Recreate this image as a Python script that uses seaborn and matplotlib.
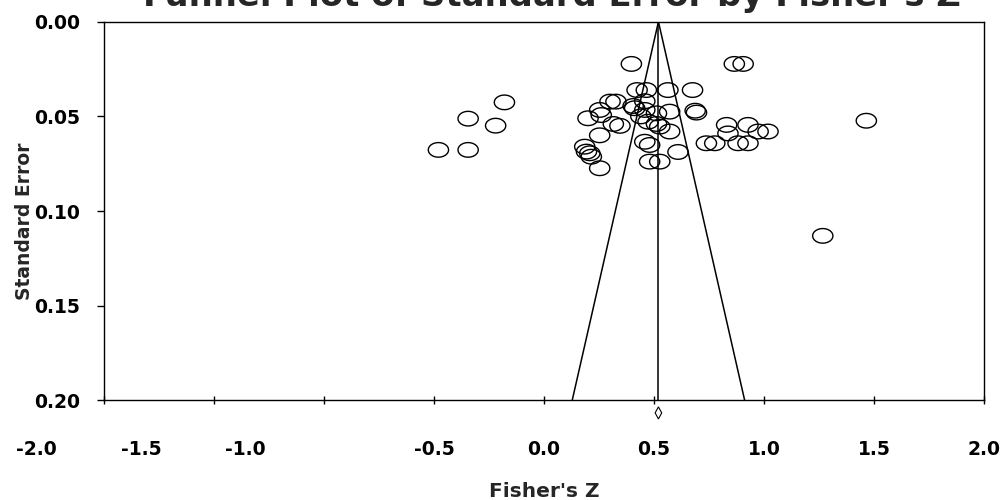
import matplotlib
matplotlib.use("Agg")
import matplotlib.pyplot as plt
import matplotlib.transforms as mtransforms
import seaborn as sns
import numpy as np
from matplotlib.path import Path

# studies: Fisher's Z and its standard error
z_values = [-0.18, -0.345, -0.22, -0.48, -0.345,
            0.397, 0.865, 0.905,
            0.423, 0.465, 0.563, 0.675,
            0.30, 0.327, 0.405, 0.412, 0.458,
            0.26, 0.253, 0.458, 0.511, 0.571, 0.687, 0.693,
            0.20, 0.315, 0.345, 0.473, 0.511, 0.526, 0.44,
            0.83, 0.927, 1.465,
            0.253, 0.571, 0.836, 0.973, 1.018,
            0.185, 0.458, 0.48, 0.738, 0.776, 0.882, 0.927,
            0.193, 0.208, 0.609, 0.215,
            0.48, 0.526, 0.253,
            1.267]
se_values = [0.0426, 0.0512, 0.0549, 0.0677, 0.0677,
             0.0223, 0.0223, 0.0223,
             0.0361, 0.0361, 0.0361, 0.0361,
             0.0422, 0.0422, 0.0445, 0.0457, 0.0420,
             0.0493, 0.0466, 0.0466, 0.0484, 0.0475, 0.0470, 0.0480,
             0.0510, 0.0540, 0.0550, 0.0528, 0.0540, 0.0554, 0.0500,
             0.0545, 0.0545, 0.0523,
             0.0600, 0.0580, 0.0590, 0.0580, 0.0580,
             0.0660, 0.0634, 0.0651, 0.0642, 0.0642, 0.0642, 0.0642,
             0.0686, 0.0695, 0.0688, 0.0713,
             0.0739, 0.0739, 0.0774,
             0.1131]

pooled_z = 0.52
pooled_ci = [0.505, 0.535]
se_max = 0.20
x_ticks = [-2.0, -1.5, -1.0, -0.5, 0.0, 0.5, 1.0, 1.5, 2.0]
y_ticks = [0.00, 0.05, 0.10, 0.15, 0.20]

sns.set_theme(style="white")
plt.rcParams['font.family'] = ['DejaVu Sans']
plt.rcParams['font.weight'] = 'bold'

fig = plt.figure(figsize=(10.07, 5.0), dpi=100)
ax = fig.add_axes([0.1033, 0.1992, 0.8739, 0.7574])

# slightly flattened circle, like the original markers
t = np.linspace(0, 2 * np.pi, 25)
ellipse = Path(np.column_stack([np.cos(t), 0.72 * np.sin(t)]), closed=True)

sns.scatterplot(x=z_values, y=se_values, ax=ax, marker=ellipse, s=215,
                facecolors='none', edgecolor='black', linewidth=1.0, legend=False)

# funnel (95% limits) and pooled estimate line
lo = pooled_z - 1.96 * se_max
hi = pooled_z + 1.96 * se_max
ax.plot([lo, pooled_z, hi], [se_max, 0, se_max], color='black', lw=1.1)
ax.plot([pooled_z, pooled_z], [0, se_max], color='black', lw=1.1)

# diamond under the axis
dy = 0.0032
yd = se_max + 0.0066
ax.fill([pooled_ci[0], pooled_z, pooled_ci[1], pooled_z],
        [yd, yd - dy, yd, yd + dy], facecolor='white', edgecolor='black',
        lw=0.8, clip_on=False, zorder=5)

ax.set_xlim(-2.0, 2.0)
ax.set_ylim(se_max, 0)
ax.set_xticks(x_ticks)
ax.set_xticklabels([f"{v:.1f}" for v in x_ticks])
ax.set_yticks(y_ticks)
ax.set_yticklabels([f"{v:.2f}" for v in y_ticks])

ax.tick_params(axis='x', bottom=True, direction='inout', length=6, width=1,
               pad=25.5, labelsize=13.5, colors='black')
ax.tick_params(axis='y', left=True, direction='out', length=5, width=1,
               pad=12, labelsize=13.5, colors='black')
for lab in ax.get_xticklabels() + ax.get_yticklabels():
    lab.set_fontweight('bold')

for sp in ax.spines.values():
    sp.set_color('black')
    sp.set_linewidth(1)

ax.set_xlabel("Fisher's Z", fontsize=14.5, fontweight='bold', va='center')
ax.xaxis.set_label_coords(0.5, -0.241)
ax.set_ylabel("Standard Error", fontsize=13.5, fontweight='bold', va='center')
ax.yaxis.set_label_coords(-0.0909, 0.474)

fig.text(552 / 1007, 1 - 6 / 500, "Funnel Plot of Standard Error by Fisher's Z",
         ha='center', va='baseline', fontsize=24.4, fontweight='bold')

# the three leftmost x labels sit left of their ticks in the original
shifts = {0: -68, 1: -73, 2: -79}
for i, tick in enumerate(ax.xaxis.get_major_ticks()):
    if i in shifts:
        off = mtransforms.ScaledTranslation(shifts[i] / 100, 0, fig.dpi_scale_trans)
        tick.label1.set_transform(tick.label1.get_transform() + off)

fig.savefig("out.png", dpi=100, facecolor='white')
